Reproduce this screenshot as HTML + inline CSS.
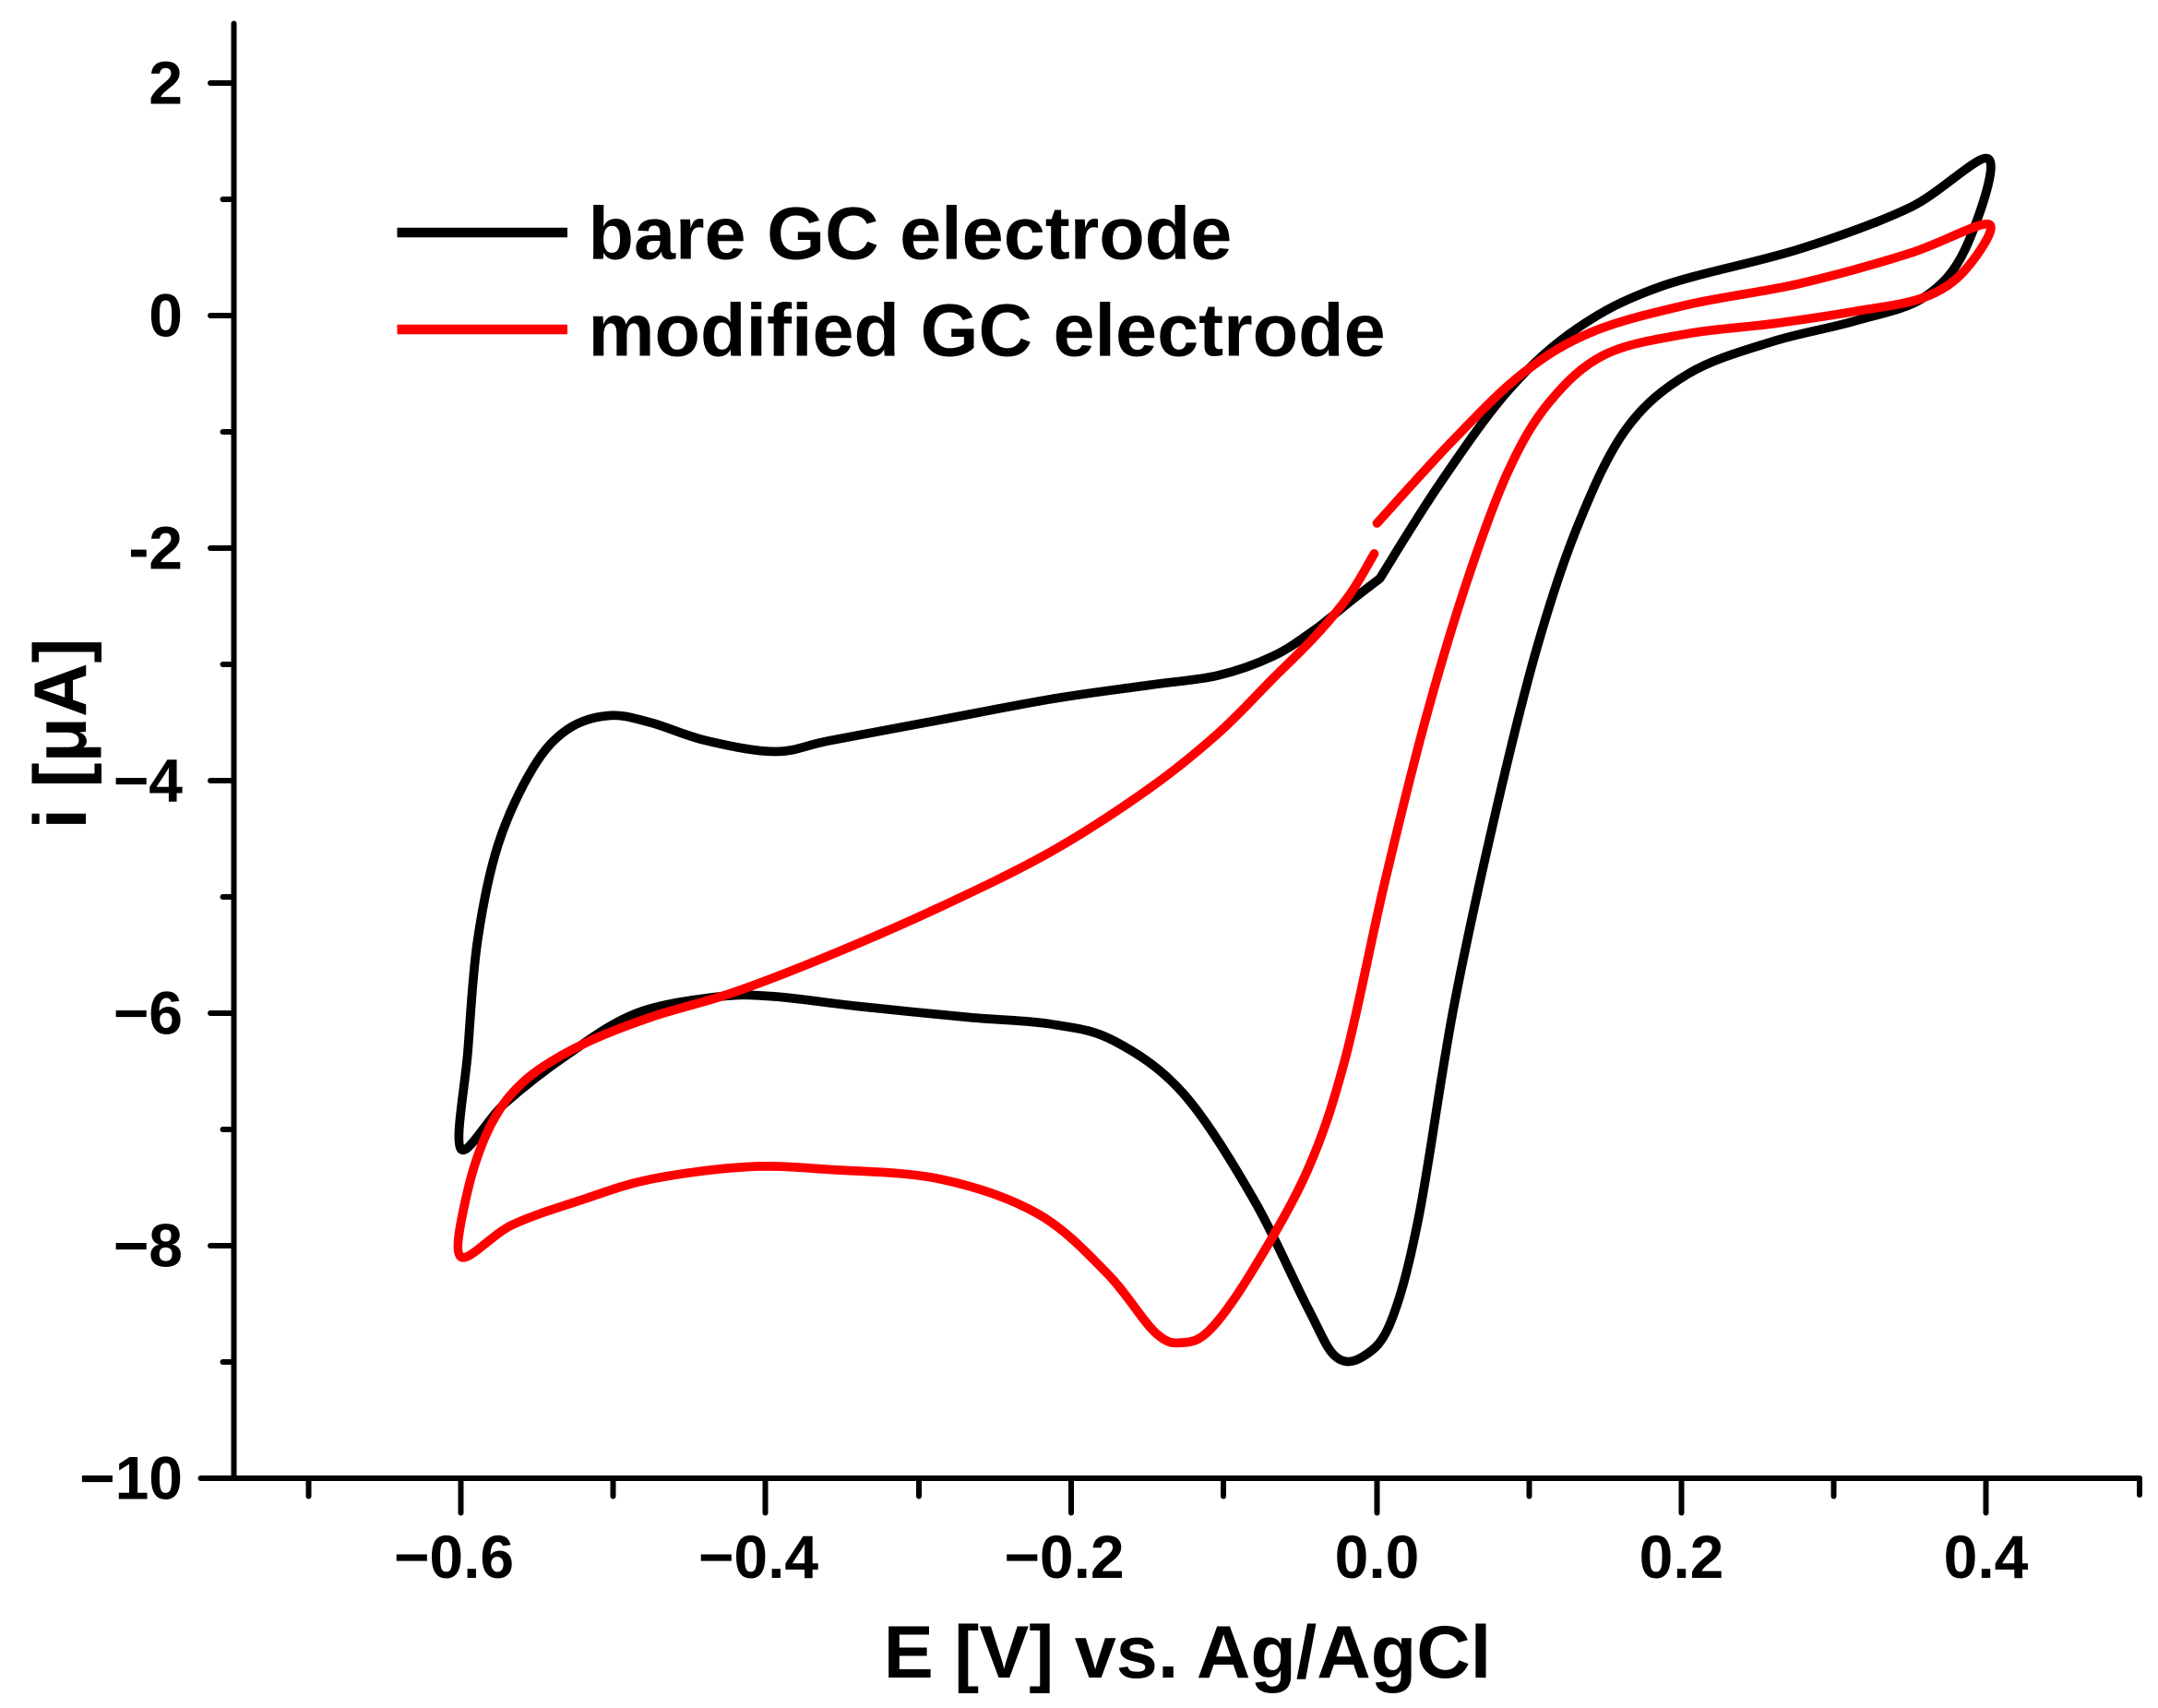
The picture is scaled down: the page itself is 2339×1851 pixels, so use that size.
<!DOCTYPE html>
<html><head><meta charset="utf-8"><style>
html,body{margin:0;padding:0;background:#fff;}
svg{display:block;}
text{font-family:"Liberation Sans",Arial,sans-serif;font-weight:bold;fill:#000;}
</style></head><body>
<svg width="2339" height="1851" viewBox="0 0 1559.33 1234" xmlns="http://www.w3.org/2000/svg">
<g stroke="#000" stroke-width="4" stroke-linecap="round" fill="none">
<line x1="169" y1="17" x2="169" y2="1068"/>
<line x1="145" y1="1068" x2="1546" y2="1068"/>
<line x1="1546" y1="1068" x2="1546" y2="1080"/>
<line x1="152" y1="60" x2="169" y2="60"/>
<line x1="152" y1="228" x2="169" y2="228"/>
<line x1="152" y1="396" x2="169" y2="396"/>
<line x1="152" y1="564" x2="169" y2="564"/>
<line x1="152" y1="732" x2="169" y2="732"/>
<line x1="152" y1="900" x2="169" y2="900"/>
<line x1="161" y1="144" x2="169" y2="144"/>
<line x1="161" y1="312" x2="169" y2="312"/>
<line x1="161" y1="480" x2="169" y2="480"/>
<line x1="161" y1="648" x2="169" y2="648"/>
<line x1="161" y1="816" x2="169" y2="816"/>
<line x1="161" y1="984" x2="169" y2="984"/>
<line x1="333" y1="1068" x2="333" y2="1093"/>
<line x1="553" y1="1068" x2="553" y2="1093"/>
<line x1="774" y1="1068" x2="774" y2="1093"/>
<line x1="995" y1="1068" x2="995" y2="1093"/>
<line x1="1215" y1="1068" x2="1215" y2="1093"/>
<line x1="1435" y1="1068" x2="1435" y2="1093"/>
<line x1="223" y1="1068" x2="223" y2="1081"/>
<line x1="443" y1="1068" x2="443" y2="1081"/>
<line x1="664" y1="1068" x2="664" y2="1081"/>
<line x1="884" y1="1068" x2="884" y2="1081"/>
<line x1="1105" y1="1068" x2="1105" y2="1081"/>
<line x1="1325" y1="1068" x2="1325" y2="1081"/>
</g>
<g font-size="44" text-anchor="end">
<text x="132" y="75">2</text>
<text x="132" y="243">0</text>
<text x="132" y="411">-2</text>
<text x="132" y="579">−4</text>
<text x="132" y="747">−6</text>
<text x="132" y="915">−8</text>
<text x="132" y="1083">−10</text>
</g>
<g font-size="44" text-anchor="middle">
<text x="328" y="1140">−0.6</text>
<text x="548" y="1140">−0.4</text>
<text x="769" y="1140">−0.2</text>
<text x="995" y="1140">0.0</text>
<text x="1215" y="1140">0.2</text>
<text x="1435" y="1140">0.4</text>
</g>
<text x="858" y="1212" font-size="54" text-anchor="middle">E [V] vs. Ag/AgCl</text>
<text transform="translate(62,530) rotate(-90)" font-size="54" text-anchor="middle">i [μA]</text>
<line x1="287" y1="168" x2="410" y2="168" stroke="#000" stroke-width="7"/>
<line x1="287" y1="238" x2="410" y2="238" stroke="#f00" stroke-width="7"/>
<text x="425" y="187" font-size="54">bare GC electrode</text>
<text x="425" y="257" font-size="54">modified GC electrode</text>
<path id="blk" stroke="#000" stroke-width="6.5" fill="none" stroke-linejoin="round" stroke-linecap="round"/>
<path id="red" stroke="#f00" stroke-width="6.5" fill="none" stroke-linejoin="round" stroke-linecap="round"/>
</svg>
<script>
function cr(p){let d="M"+p[0][0]+","+p[0][1];for(let i=0;i<p.length-1;i++){const a=p[Math.max(0,i-1)],b=p[i],c=p[i+1],e=p[Math.min(p.length-1,i+2)];d+=" C"+(b[0]+(c[0]-a[0])/6)+","+(b[1]+(c[1]-a[1])/6)+" "+(c[0]-(e[0]-b[0])/6)+","+(c[1]-(e[1]-b[1])/6)+" "+c[0]+","+c[1];}return d;}
const blk=[[997,418],[1040,350],[1090,282],[1140,237],[1200,207],[1300,180],[1380,150],[1437,115],[1420,180],[1390,215],[1340,232],[1280,247],[1220,270],[1175,310],[1140,380],[1110,470],[1080,590],[1050,730],[1025,880],[1005,955],[985,980],[965,980],[945,945],[905,865],[855,790],[805,752],[760,740],[700,735],[620,727],[560,720],[520,720],[460,732],[410,762],[365,797],[333,830],[338,760],[345,680],[360,610],[385,555],[410,527],[440,517],[470,522],[510,535],[560,543],[600,535],[680,520],[760,505],[830,495],[880,488],[920,474],[950,455],[975,435],[997,418]];
const r1=[[995,378],[1050,318],[1100,270],[1150,240],[1220,220],[1300,205],[1380,183],[1437,162],[1420,195],[1390,215],[1340,225],[1280,234],[1220,241],[1160,256],[1120,290],[1090,340],[1060,420],[1030,520],[1000,640],[972,765],[945,845],[905,918],[875,960],[855,970],[835,963],[800,920],[750,877],[680,852],[600,845],[540,843],[470,852],[420,867],[370,885],[333,908],[338,860],[355,812],[380,780],[420,755],[470,735],[530,717],[600,690],[680,655],[760,615],[830,570],[880,530],[920,490],[950,460],[975,430],[993,400]];
document.getElementById("blk").setAttribute("d",cr(blk));
document.getElementById("red").setAttribute("d",cr(r1));
</script>
</body></html>
